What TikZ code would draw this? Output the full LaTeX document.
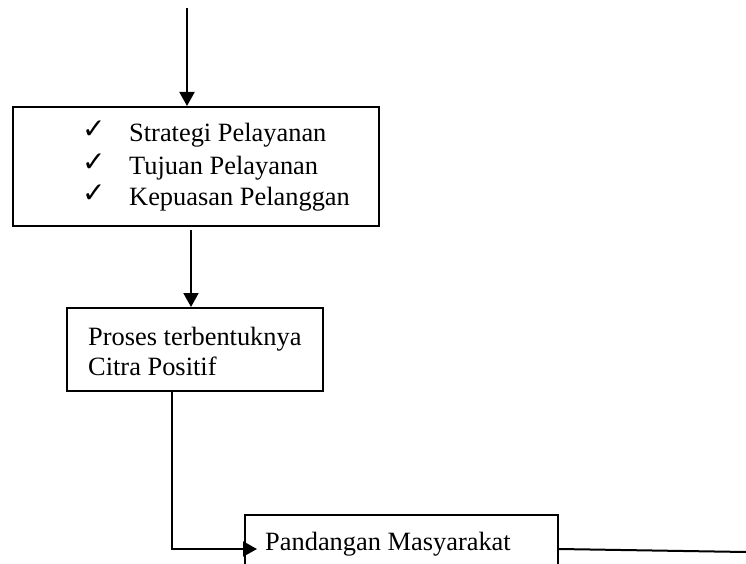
\documentclass[tikz,border=0pt]{standalone}
\usepackage{fontspec}
\setmainfont{Liberation Serif}
\newfontfamily\symfont{DejaVu Sans}
\usetikzlibrary{arrows.meta}
\begin{document}
\begin{tikzpicture}[x=1pt,y=-1pt,
  boxstyle/.style={draw=black,line width=2pt,rectangle,inner sep=0pt},
  txt/.style={inner sep=0pt,anchor=base west,font=\fontsize{26.4}{31.7}\selectfont},
  chk/.style={inner sep=0pt,anchor=base west,font=\symfont\fontsize{28}{30}\selectfont},
  conn/.style={line width=2pt,-{Triangle[width=15pt,length=14pt]}},
  plain/.style={line width=2pt}]
\useasboundingbox (0,0) rectangle (746,564);
\clip (0,0) rectangle (746,564);
% box 1
\node[boxstyle,minimum width=366pt,minimum height=119pt] (b1) at (196,166.5) {};
\node[chk] (c1) at (82,139) {✓};
\node[chk] (c2) at (82,171.5) {✓};
\node[chk] (c3) at (82,202.5) {✓};
\node[txt] (t1) at (129,142) {Strategi Pelayanan};
\node[txt] (t2) at (129,174.5) {Tujuan Pelayanan};
\node[txt] (t3) at (129,205.5) {Kepuasan Pelanggan};
% box 2
\node[boxstyle,minimum width=256pt,minimum height=83pt] (b2) at (195,349.5) {};
\node[txt] (t4) at (88,345) {Proses terbentuknya};
\node[txt] (t5) at (88,375.5) {Citra Positif};
% box 3
\node[boxstyle,minimum width=313pt,minimum height=100pt] (b3) at (401.5,565) {};
\node[txt] (t6) at (265,550) {Pandangan Masyarakat};
% connectors
\coordinate (top) at (187,8);
\coordinate (tip3) at (257,549);
\coordinate (endr) at (746,552);
\draw[conn] (top) -- (top |- b1.north);
\draw[conn] (191,230) -- (191,0 |- b2.north);
\draw[conn] (b2.south -| 172,0) |- (tip3);
\draw[plain] (b3.east |- 0,549) -- (endr);
\end{tikzpicture}
\end{document}
